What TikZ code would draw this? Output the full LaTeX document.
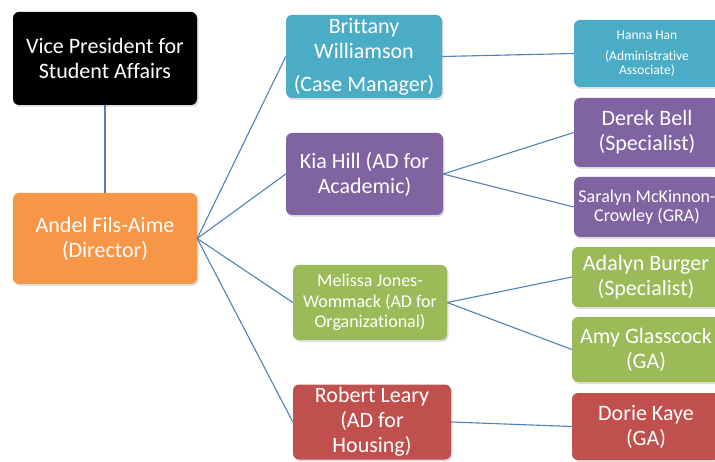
\documentclass[tikz,border=0pt]{standalone}
\usepackage{fontspec}
\setmainfont{Carlito}[Ligatures=CommonOff]
\usetikzlibrary{shadows}
\definecolor{cOrange}{HTML}{F79646}
\definecolor{cTeal}{HTML}{4BACC6}
\definecolor{cPurple}{HTML}{8064A2}
\definecolor{cGreen}{HTML}{9BBB59}
\definecolor{cRed}{HTML}{C0504D}
\definecolor{cLine}{HTML}{4F81BD}
\tikzset{
  box/.style={rounded corners=6pt, text=white, align=center, inner sep=0pt,
    drop shadow={opacity=0.25, shadow xshift=1.5pt, shadow yshift=-2pt}},
  big/.style={font=\fontsize{22}{25}\selectfont},
  mid/.style={font=\fontsize{18}{20.5}\selectfont},
  midtight/.style={font=\fontsize{18}{18.5}\selectfont},
  small/.style={font=\fontsize{13.5}{14}\selectfont},
  link/.style={draw=cLine, line width=1.1pt},
  trunk/.style={draw=cLine, line width=2.5pt}
}
\begin{document}
\begin{tikzpicture}[x=1pt,y=-1pt]
\useasboundingbox (0,0) rectangle (715,462);
\clip (0,0) rectangle (715,462);
\fill[white] (0,0) rectangle (715,462);
% left column
\node[box, fill=black, big, minimum width=184pt, minimum height=93pt] (vp) at (105,58.5) {Vice President for\\Student Affairs};
\node[box, fill=cOrange, big, minimum width=184pt, minimum height=91pt] (dir) at (105,238.5) {Andel Fils-Aime\\(Director)};
% middle column
\node[box, fill=cTeal, big, minimum width=156pt, minimum height=83pt] (brit) at (364,56.5) {Brittany\\Williamson\\[8pt](Case Manager)};
\node[box, fill=cPurple, big, minimum width=157pt, minimum height=82pt] (kia) at (364.5,174) {Kia Hill (AD for\\Academic)};
\node[box, fill=cGreen, mid, minimum width=154pt, minimum height=75pt] (mel) at (370,302.5) {Melissa Jones-\\Wommack (AD for\\Organizational)};
\node[box, fill=cRed, big, minimum width=158pt, minimum height=75pt] (rob) at (372,422) {Robert Leary\\(AD for\\Housing)};
% right column
\node[box, fill=cTeal, small, minimum width=146pt, minimum height=67pt] (hanna) at (647,53.5) {Hanna Han\\[7pt](Administrative\\Associate)};
\node[box, fill=cPurple, big, minimum width=146pt, minimum height=69pt] (derek) at (647,132.5) {Derek Bell\\(Specialist)};
\node[box, fill=cPurple, midtight, minimum width=146pt, minimum height=60pt] (sara) at (647,207) {Saralyn McKinnon-\\Crowley (GRA)};
\node[box, fill=cGreen, big, minimum width=148pt, minimum height=60pt] (ada) at (646,277) {Adalyn Burger\\(Specialist)};
\node[box, fill=cGreen, big, minimum width=148pt, minimum height=65pt] (amy) at (646,349.5) {Amy Glasscock\\(GA)};
\node[box, fill=cRed, big, minimum width=148pt, minimum height=67pt] (dorie) at (646,426.5) {Dorie Kaye\\(GA)};
% connectors
\draw[trunk] (vp.south) -- (dir.north);
\draw[link] (dir.east) -- (brit.west);
\draw[link] (dir.east) -- (kia.west);
\draw[link] (dir.east) -- (mel.west);
\draw[link] (dir.east) -- (rob.west);
\draw[link] (brit.east) -- (hanna.west);
\draw[link] (kia.east) -- (derek.west);
\draw[link] (kia.east) -- (sara.west);
\draw[link] (mel.east) -- (ada.west);
\draw[link] (mel.east) -- (amy.west);
\draw[link] (rob.east) -- (dorie.west);
\end{tikzpicture}
\end{document}
